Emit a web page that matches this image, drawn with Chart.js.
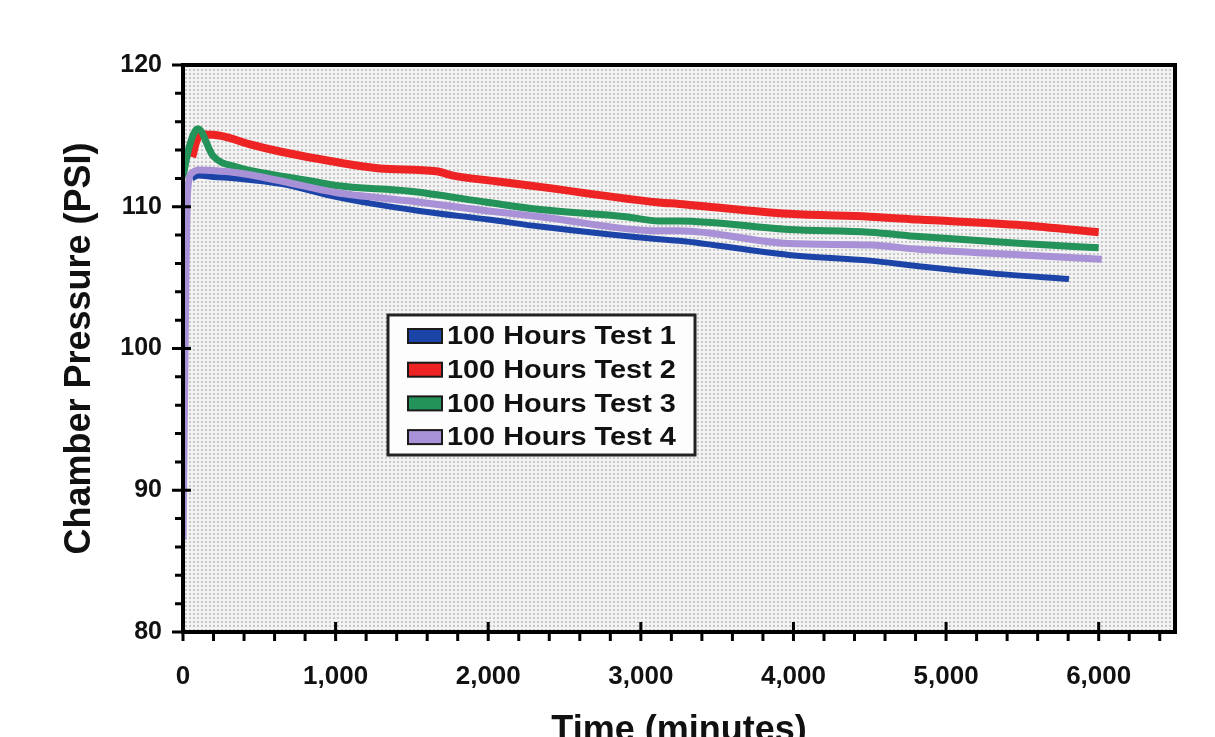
<!DOCTYPE html>
<html>
<head>
<meta charset="utf-8">
<script src="https://cdn.jsdelivr.net/npm/chart.js@4.4.1/dist/chart.umd.min.js"></script>
<style>
  html, body { margin: 0; padding: 0; background: #fff; }
  #wrap { width: 1215px; height: 737px; }
</style>
</head>
<body>
<div id="wrap"><canvas id="pressureChart" width="1215" height="737"></canvas></div>
<script>
// ─── data (time in minutes, pressure in PSI) ───
const seriesNames = ['100 Hours Test 1', '100 Hours Test 2', '100 Hours Test 3', '100 Hours Test 4'];
const seriesColors = ['#1c44a8', '#ee2323', '#24935a', '#a891d6'];

const test1Time = [60, 100, 200, 350, 650, 1000, 1550, 2000, 2340, 3120, 3250, 3970, 4500, 4820, 5300, 5805];
const test1Psi  = [112.0, 112.2, 112.1, 112.0, 111.6, 110.7, 109.7, 109.1, 108.6, 107.7, 107.6, 106.6, 106.2, 105.8, 105.3, 104.9];

const test2Time = [60, 90, 130, 250, 440, 635, 1030, 1290, 1660, 1770, 2050, 2340, 3120, 3250, 3970, 4500, 4820, 5500, 6000];
const test2Psi  = [113.5, 114.7, 115.1, 115.0, 114.4, 113.9, 113.1, 112.7, 112.5, 112.2, 111.8, 111.4, 110.3, 110.2, 109.5, 109.3, 109.1, 108.7, 108.2];

const test3Time = [0, 40, 98, 196, 353, 570, 850, 1000, 1490, 2000, 2340, 2900, 3120, 3250, 3970, 4500, 4820, 5500, 6000];
const test3Psi  = [112.1, 114.2, 115.5, 113.6, 112.8, 112.3, 111.8, 111.5, 111.1, 110.3, 109.8, 109.3, 109.0, 109.0, 108.4, 108.2, 107.9, 107.4, 107.1];

const test4Time = [0, 30, 60, 100, 353, 650, 1000, 1490, 2000, 2340, 3120, 3250, 3970, 4500, 4820, 5500, 6020];
const test4Psi  = [86.5, 111.0, 112.4, 112.6, 112.4, 111.8, 111.0, 110.4, 109.7, 109.3, 108.3, 108.3, 107.4, 107.3, 107.0, 106.6, 106.3];

// axis ticks
const xTicks = [0, 1000, 2000, 3000, 4000, 5000, 6000];
const yTicks = [80, 90, 100, 110, 120];
const xMin = 0, xMax = 6500, xMinor = 200;
const yMin = 80, yMax = 120, yMinor = 2;

const FONT = "'Liberation Sans', Arial, sans-serif";

function pairs(t, p) {
    return t.map((v, i) => ({ x: v, y: p[i] }));
}
function withCommas(v) {
    return String(v).replace(/\B(?=(\d{3})+(?!\d))/g, ',');
}

const allTimes = [test1Time, test2Time, test3Time, test4Time];
const allPsi = [test1Psi, test2Psi, test3Psi, test4Psi];
const lineWidths = [6, 8, 7, 7];
const drawOrder = [3, 2, 1, 0]; // purple on top, blue at the bottom

// ─── plot area background: light dotted gray ───
const dotTile = document.createElement('canvas');
dotTile.width = 4; dotTile.height = 4;
const tctx = dotTile.getContext('2d');
tctx.fillStyle = '#f3f3f3';
tctx.fillRect(0, 0, 4, 4);
tctx.fillStyle = '#c8c8c8';
tctx.fillRect(1, 1, 2, 2);

const plotDecor = {
    id: 'plotDecor',
    beforeDatasetsDraw(chart) {
        const { ctx, chartArea: a } = chart;
        ctx.save();
        ctx.fillStyle = ctx.createPattern(dotTile, 'repeat');
        ctx.fillRect(a.left, a.top, a.right - a.left, a.bottom - a.top);
        ctx.restore();
    },
    afterDatasetsDraw(chart) {
        const { ctx, chartArea: a, scales: { x, y } } = chart;
        ctx.save();
        ctx.strokeStyle = '#000';
        ctx.lineWidth = 4;
        ctx.strokeRect(a.left, a.top, a.right - a.left, a.bottom - a.top);

        // minor + major tick marks
        ctx.lineWidth = 3;
        ctx.beginPath();
        for (let v = yMin; v <= yMax; v += yMinor) {
            const py = y.getPixelForValue(v);
            const major = yTicks.includes(v);
            ctx.moveTo(a.left - (major ? 11 : 8), py);
            ctx.lineTo(a.left + (major && v > yMin && v < yMax ? 8 : 0), py);
        }
        for (let v = xMin; v < xMax; v += xMinor) {
            const px = x.getPixelForValue(v);
            const major = xTicks.includes(v);
            ctx.moveTo(px, a.bottom + 9);
            ctx.lineTo(px, a.bottom - (major && v > xMin ? 10 : 0));
        }
        ctx.stroke();
        ctx.restore();
    },
    afterDraw(chart) {
        // legend box inside the plot
        const { ctx } = chart;
        const bx = 388, by = 315, bw = 307, bh = 140;
        ctx.save();
        ctx.fillStyle = '#fdfdfd';
        ctx.fillRect(bx, by, bw, bh);
        ctx.strokeStyle = '#222';
        ctx.lineWidth = 3;
        ctx.strokeRect(bx, by, bw, bh);
        ctx.textBaseline = 'middle';
        chart.data.datasets.forEach((ds, i) => {
            const cy = by + 21 + i * 33.7;
            ctx.fillStyle = ds.borderColor;
            ctx.fillRect(408, cy - 7, 34, 14);
            ctx.lineWidth = 2;
            ctx.strokeStyle = '#1a1a1a';
            ctx.strokeRect(408, cy - 7, 34, 14);
            ctx.save();
            ctx.translate(447, cy + 1);
            ctx.scale(1.11, 1);
            ctx.font = 'bold 26px ' + FONT;
            ctx.fillStyle = '#111';
            ctx.fillText(ds.label, 0, 0);
            ctx.restore();
        });
        ctx.restore();
    }
};

const ctx = document.getElementById('pressureChart').getContext('2d');
const chart = new Chart(ctx, {
    type: 'line',
    data: {
        datasets: seriesNames.map((name, i) => ({
            label: name,
            data: pairs(allTimes[i], allPsi[i]),
            borderColor: seriesColors[i],
            backgroundColor: seriesColors[i],
            borderWidth: lineWidths[i],
            pointRadius: 0,
            cubicInterpolationMode: 'monotone',
            borderJoinStyle: 'round',
            fill: false,
            order: drawOrder[i]
        }))
    },
    options: {
        responsive: false,
        devicePixelRatio: 1,
        animation: false,
        layout: { padding: { left: 0, top: 65, right: 40, bottom: 0 } },
        plugins: {
            legend: { display: false },
            tooltip: { enabled: false }
        },
        scales: {
            x: {
                type: 'linear',
                min: xMin,
                max: xMax,
                grid: { display: false, drawTicks: false },
                border: { display: false },
                afterBuildTicks(scale) {
                    scale.ticks = xTicks.map(v => ({ value: v }));
                },
                ticks: {
                    autoSkip: false,
                    maxRotation: 0,
                    minRotation: 0,
                    padding: 29,
                    color: '#111',
                    font: { family: FONT, size: 26, weight: 'bold' },
                    callback: v => withCommas(v)
                },
                title: {
                    display: true,
                    text: 'Time (minutes)',
                    color: '#111',
                    font: { family: FONT, size: 36, weight: 'bold' },
                    padding: { top: 0, bottom: -16 }
                },
                afterFit(scale) { scale.height = 105; }
            },
            y: {
                min: yMin,
                max: yMax,
                grid: { display: false, drawTicks: false },
                border: { display: false },
                afterBuildTicks(scale) {
                    scale.ticks = yTicks.map(v => ({ value: v }));
                },
                ticks: {
                    padding: 21,
                    color: '#111',
                    font: { family: FONT, size: 25, weight: 'bold' }
                },
                title: {
                    display: true,
                    text: 'Chamber Pressure (PSI)',
                    color: '#111',
                    font: { family: FONT, size: 36, weight: 'bold' },
                    padding: { top: 58, bottom: 0 }
                },
                afterFit(scale) { scale.width = 183; }
            }
        }
    },
    plugins: [plotDecor]
});
</script>
</body>
</html>
